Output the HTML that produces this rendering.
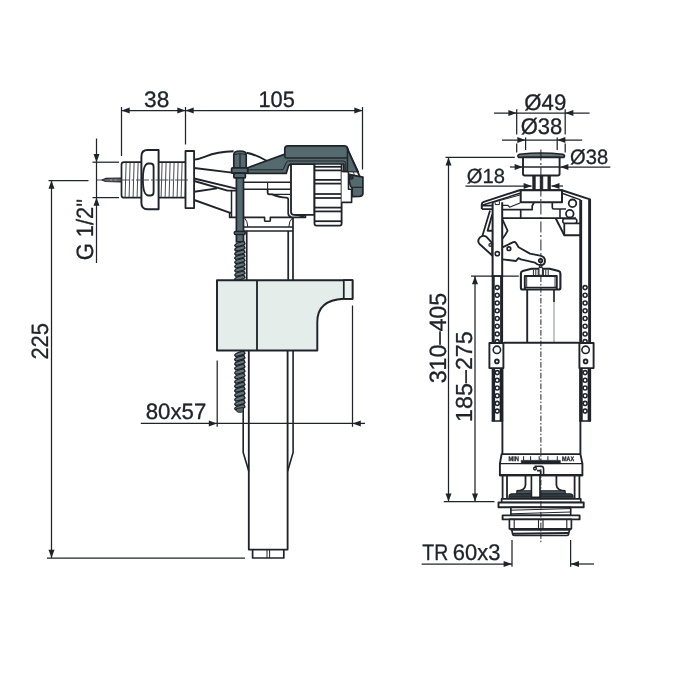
<!DOCTYPE html>
<html lang="en"><head><meta charset="utf-8"><title>Technical drawing</title>
<style>
html,body{margin:0;padding:0;background:#fff;}
body{width:700px;height:700px;overflow:hidden;}
svg{display:block;will-change:transform;}
svg text{font-family:"Liberation Sans",sans-serif;fill:#20242a;stroke:#20242a;stroke-width:0.3px;stroke-linejoin:round;text-rendering:geometricPrecision;}
</style></head><body>
<svg width="700" height="700" viewBox="0 0 700 700" fill="none" stroke="#20242a" stroke-linecap="butt" stroke-linejoin="round">
<rect x="0" y="0" width="700" height="700" fill="#fff" stroke="none"/>
<g id="left-dims">
<path d="M121.5 110.5L362.5 110.5" stroke-width="1.25"/>
<path d="M121.5 107L121.5 156" stroke-width="1.25"/>
<path d="M185.5 107L185.5 144.5" stroke-width="1.25"/>
<path d="M362.5 107L362.5 169.5" stroke-width="1.25"/>
<polygon points="121.5,110.5 129.7,107.5 129.7,113.5" fill="#20242a" stroke="none"/>
<polygon points="185.5,110.5 177.3,107.5 177.3,113.5" fill="#20242a" stroke="none"/>
<polygon points="185.5,110.5 193.7,107.5 193.7,113.5" fill="#20242a" stroke="none"/>
<polygon points="362.5,110.5 354.3,107.5 354.3,113.5" fill="#20242a" stroke="none"/>
<text x="144.12" y="106.8" font-size="22.4" textLength="25.14" lengthAdjust="spacingAndGlyphs">38</text>
<text x="258.38" y="106.8" font-size="22.4" textLength="36.41" lengthAdjust="spacingAndGlyphs">105</text>
<path d="M96.5 138.5L96.5 263" stroke-width="1.25"/>
<path d="M92.5 162.2L119 162.2" stroke-width="1.25"/>
<path d="M92.5 197.6L119 197.6" stroke-width="1.25"/>
<polygon points="96.5,162.2 93.5,154 99.5,154" fill="#20242a" stroke="none"/>
<polygon points="96.5,197.6 93.5,205.8 99.5,205.8" fill="#20242a" stroke="none"/>
<text transform="translate(93.1 260.31) rotate(-90)" font-size="23.6" textLength="61.39" lengthAdjust="spacingAndGlyphs">G 1/2"</text>
<path d="M51.5 180.5L51.5 558" stroke-width="1.25"/>
<path d="M48.5 180.5L88.5 180.5" stroke-width="1.25"/>
<path d="M47 558L245 558" stroke-width="1.25"/>
<polygon points="51.5,180.5 48.5,188.7 54.5,188.7" fill="#20242a" stroke="none"/>
<polygon points="51.5,558 48.5,549.8 54.5,549.8" fill="#20242a" stroke="none"/>
<text transform="translate(48 359.61) rotate(-90)" font-size="23.6" textLength="36.61" lengthAdjust="spacingAndGlyphs">225</text>
<path d="M140.8 423.4L365 423.4" stroke-width="1.25"/>
<path d="M217.2 360.5L217.2 426.8" stroke-width="1.25"/>
<path d="M352.5 305.5L352.5 426.8" stroke-width="1.25"/>
<polygon points="217,423.4 208.8,420.4 208.8,426.4" fill="#20242a" stroke="none"/>
<polygon points="352.6,423.4 360.8,420.4 360.8,426.4" fill="#20242a" stroke="none"/>
<text x="145.68" y="418.5" font-size="22.2" textLength="60.61" lengthAdjust="spacingAndGlyphs">80x57</text>
</g>
<g id="fill-valve" stroke-width="1.5">
<path d="M102 179.9L105.5 178.4L121.5 178L121.5 181.9L105.5 181.5Z" stroke-width="1.1" fill="#7d8488"/>
<path d="M185.5 162.2L124 162.2Q121.5 162.2 121.5 164.8L121.5 195.2Q121.5 197.7 124 197.7L185.5 197.7" stroke-width="1.72" fill="#fff"/>
<path d="M126.1 162.8L125.1 197.2" stroke-width="0.95" stroke="#3c4147"/>
<path d="M130.1 162.8L129.1 197.2" stroke-width="0.95" stroke="#3c4147"/>
<path d="M134.1 162.8L133.1 197.2" stroke-width="0.95" stroke="#3c4147"/>
<path d="M138.1 162.8L137.1 197.2" stroke-width="0.95" stroke="#3c4147"/>
<path d="M162.1 162.8L161.1 197.2" stroke-width="0.95" stroke="#3c4147"/>
<path d="M166.1 162.8L165.1 197.2" stroke-width="0.95" stroke="#3c4147"/>
<path d="M170.1 162.8L169.1 197.2" stroke-width="0.95" stroke="#3c4147"/>
<path d="M174.1 162.8L173.1 197.2" stroke-width="0.95" stroke="#3c4147"/>
<path d="M178.1 162.8L177.1 197.2" stroke-width="0.95" stroke="#3c4147"/>
<path d="M182.1 162.8L181.1 197.2" stroke-width="0.95" stroke="#3c4147"/>
<path d="M186.1 162.8L185.1 197.2" stroke-width="0.95" stroke="#3c4147"/>
<path d="M158.6 150L147.5 150Q141.4 150 141.4 156.5L141.4 202.8Q141.4 209.3 147.5 209.3L158.6 209.3Z" stroke-width="1.95" fill="#fff"/>
<path d="M148.6 163.5L150.3 163.5Q153.6 163.5 153.6 166.8L153.6 192.2Q153.6 195.5 150.3 195.5L148.6 195.5C144.4 195.5 142.9 188 142.9 179.5C142.9 171 144.4 163.5 148.6 163.5Z" stroke-width="1.84" fill="#fff"/>
<rect x="185.5" y="151" width="8.6" height="57.1" rx="0" stroke-width="1.84" fill="#fff"/>
<path d="M97 180L189.5 180" stroke-width="0.9" stroke="#3a3f45" stroke-dasharray="13 2 2.5 2"/>
<path d="M194.2 159.6C206 158.6 208 151.6 233.6 151.3" stroke-width="1.9" fill="none"/>
<path d="M246.5 152.8C254 154.2 260 157 266.5 160.8" stroke-width="1.9" fill="none"/>
<path d="M194.2 168L232 172.6" stroke-width="1.9"/>
<path d="M194.2 178.5L236.2 188.6" stroke-width="1.9" fill="none"/>
<path d="M194.2 181L227.5 190.6L236.2 190.6" stroke-width="1.9" fill="none"/>
<path d="M194.2 191.8L217 188.4" stroke-width="1.9" fill="none"/>
<path d="M194.2 200L230.2 212.8L231.5 212.8" stroke-width="1.9" fill="none"/>
<path d="M231.5 190.8L231.5 217.4" stroke-width="1.49" fill="none"/>
<path d="M229.6 212.8L229.6 217.4L264.6 217.4L264.6 220.4Q264.6 221.2 265.5 221.2L269.4 221.2Q270.3 221.2 270.3 220.4L270.3 217.4L305.5 217.4L305.5 214.8" stroke-width="1.61" fill="none"/>
<path d="M243.5 182.2L291 182.2" stroke-width="1.61"/>
<path d="M243.5 189.2L291 189.2" stroke-width="1.61"/>
<path d="M267.6 182.2L267.6 192.8Q267.6 194.4 269.2 194.4L290 194.4" stroke-width="1.1" fill="none"/>
<path d="M267.6 189L267.6 192.8Q267.6 194.4 269.2 194.4L272 194.4Q280 197.6 286 197.6Q288.2 197.6 288.2 199.6L288.2 213.5Q288.4 216.5 291.5 217" stroke-width="1.72" fill="none"/>
<path d="M244 227L292.8 227M244 230.9L292.8 230.9" stroke-width="1.49" fill="none"/>
<path d="M244.3 217.6Q247.7 221 247.8 227M292.6 217.6Q289 221 288.8 227" stroke-width="1" fill="none"/>
<path d="M246.7 230.9L246.7 280" stroke-width="1.72"/>
<path d="M288.2 230.9L288.2 280" stroke-width="1.72"/>
<path d="M293 217.4L293 280" stroke-width="1.72"/>
<path d="M248.8 350.5L248.8 549.6L287.6 549.6L287.6 350.5" stroke-width="1.84" fill="none"/>
<path d="M243.2 350.5L243.2 452.5L248.8 471.3" stroke-width="1.61" fill="none"/>
<path d="M293.1 350.5L293.1 452.5L287.6 471.3" stroke-width="1.61" fill="none"/>
<path d="M252.6 549.6L252.6 558L283.8 558L283.8 549.6" stroke-width="1.72" fill="none"/>
<path d="M267 549.6L267 558M269.6 549.6L269.6 558" stroke-width="1" fill="none"/>
<path d="M291 164L314.5 164L314.5 214.8L294 214.8Q291 214.8 291 211.7Z" stroke-width="1.84" fill="#fff"/>
<path d="M294 214.8L303.5 216.9L305.5 214.8" stroke-width="1" fill="#20242a"/>
<path d="M314.5 161.6L341.6 161.6L341.6 223.5Q341.6 225.6 339.6 225.6L316.5 225.6Q314.5 225.6 314.5 223.5Z" stroke-width="1.84" fill="#fff"/>
<path d="M314.5 166.8L341.6 166.8" stroke-width="1.78"/>
<path d="M314.5 170.4L341.6 170.4" stroke-width="1.78"/>
<path d="M314.5 179.9L341.6 179.9" stroke-width="1.78"/>
<path d="M314.5 183.6L341.6 183.6" stroke-width="1.78"/>
<path d="M314.5 194L341.6 194" stroke-width="1.78"/>
<path d="M314.5 198L341.6 198" stroke-width="1.78"/>
<path d="M314.5 207.6L341.6 207.6" stroke-width="1.78"/>
<path d="M314.5 211.4L341.6 211.4" stroke-width="1.78"/>
<path d="M314.5 221.2L341.6 221.2" stroke-width="1.78"/>
<path d="M341.6 171.4L348.5 171.4L348.5 189.3L351.6 189.3L351.6 202.4L341.6 202.4" stroke-width="1.61" fill="#fff"/>
<path d="M247.6 167.8L283.6 154.6L284.8 154.6L284.8 149Q284.8 145.8 288 145.8L344.2 145.8Q347 145.8 347.6 148.4L347.6 171.4L343.8 171.4L343.8 164L290.6 164L288.6 165.6L286.2 173.4L247.6 173.4Z" stroke-width="1.72" fill="#556a6e"/>
<path d="M347.6 149.5L358.4 171.8L347.6 171.8Z" stroke-width="1.2" fill="#556a6e"/>
<path d="M347 147.6L359.8 176.6" stroke-width="1.84" fill="none"/>
<path d="M348.4 172L353.2 172L354.6 175.2L349.2 174.6Z" stroke-width="0.8" fill="#fff"/>
<path d="M349 174.4L353.6 175.4L362.9 177.2L362.9 193.2Q362.9 196 360 196.3L352.2 196.6L352.2 188.4Q349.6 186 349.1 179Z" stroke-width="1.72" fill="#556a6e"/>
<path d="M284.8 154.6L284.8 156.4Q284.8 158 286.4 158L345.6 158Q347.2 158 347.6 156.6" stroke-width="1.49" fill="none"/>
<path d="M247.6 169.8L283 169.8L286.6 162Q287 161 288.6 161L343 161Q345.8 161 345.8 163.6L345.8 171" stroke-width="1" fill="none"/>
<path d="M352.2 187.3L362.9 187.3" stroke-width="1.2" fill="none"/>
<circle cx="351.4" cy="177.4" r="1.7" stroke-width="1.1" fill="#2f3a3e"/>
<path d="M233.8 167.8L233.8 154.6Q233.8 151 240 151Q246.2 151 246.2 154.6L246.2 167.8Z" stroke-width="1.72" fill="#556a6e"/>
<path d="M240 154L240 167.8" stroke-width="1.2"/>
<path d="M234 154.6Q240 152.6 246 154.6" stroke-width="0.9" fill="none"/>
<rect x="231.6" y="167.8" width="16.1" height="5.4" rx="1" stroke-width="1.72" fill="#556a6e"/>
<rect x="233.9" y="173.2" width="11.5" height="4.7" rx="1" stroke-width="1.72" fill="#556a6e"/>
<rect x="236.4" y="177.9" width="7.1" height="64" rx="0" stroke-width="1.72" fill="#556a6e"/>
<rect x="234.3" y="231.4" width="10.9" height="3" rx="1.2" stroke-width="1.49" fill="#556a6e"/>
<path d="M234.7 245.51Q234.4 243.4 243.8 241.3L245 243.82Q244 245.3 235.9 246.78Z" stroke-width="1.35" fill="#63787c"/>
<path d="M234.7 249.73Q234.4 247.62 243.8 245.52L245 248.04Q244 249.52 235.9 251Z" stroke-width="1.35" fill="#63787c"/>
<path d="M234.7 253.96Q234.4 251.84 243.8 249.74L245 252.27Q244 253.74 235.9 255.22Z" stroke-width="1.35" fill="#63787c"/>
<path d="M234.7 258.18Q234.4 256.07 243.8 253.97L245 256.49Q244 257.97 235.9 259.44Z" stroke-width="1.35" fill="#63787c"/>
<path d="M234.7 262.4Q234.4 260.29 243.8 258.19L245 260.71Q244 262.19 235.9 263.67Z" stroke-width="1.35" fill="#63787c"/>
<path d="M234.7 266.62Q234.4 264.51 243.8 262.41L245 264.93Q244 266.41 235.9 267.89Z" stroke-width="1.35" fill="#63787c"/>
<path d="M234.7 270.84Q234.4 268.73 243.8 266.63L245 269.16Q244 270.63 235.9 272.11Z" stroke-width="1.35" fill="#63787c"/>
<path d="M234.7 275.07Q234.4 272.96 243.8 270.86L245 273.38Q244 274.86 235.9 276.33Z" stroke-width="1.35" fill="#63787c"/>
<path d="M234.7 279.29Q234.4 277.18 243.8 275.08L245 277.6Q244 279.08 235.9 280.56Z" stroke-width="1.35" fill="#63787c"/>
<path d="M234.7 355.24Q234.4 353.01 243.8 350.8L245 353.45Q244 355.02 235.9 356.58Z" stroke-width="1.35" fill="#63787c"/>
<path d="M234.7 359.7Q234.4 357.47 243.8 355.26L245 357.92Q244 359.48 235.9 361.04Z" stroke-width="1.35" fill="#63787c"/>
<path d="M234.7 364.16Q234.4 361.93 243.8 359.72L245 362.38Q244 363.94 235.9 365.5Z" stroke-width="1.35" fill="#63787c"/>
<path d="M234.7 368.62Q234.4 366.39 243.8 364.18L245 366.84Q244 368.4 235.9 369.96Z" stroke-width="1.35" fill="#63787c"/>
<path d="M234.7 373.08Q234.4 370.85 243.8 368.65L245 371.3Q244 372.86 235.9 374.42Z" stroke-width="1.35" fill="#63787c"/>
<path d="M234.7 377.55Q234.4 375.32 243.8 373.11L245 375.76Q244 377.32 235.9 378.88Z" stroke-width="1.35" fill="#63787c"/>
<path d="M234.7 382.01Q234.4 379.78 243.8 377.57L245 380.22Q244 381.78 235.9 383.35Z" stroke-width="1.35" fill="#63787c"/>
<path d="M234.7 386.47Q234.4 384.24 243.8 382.03L245 384.68Q244 386.25 235.9 387.81Z" stroke-width="1.35" fill="#63787c"/>
<path d="M234.7 390.93Q234.4 388.7 243.8 386.49L245 389.15Q244 390.71 235.9 392.27Z" stroke-width="1.35" fill="#63787c"/>
<path d="M234.7 395.39Q234.4 393.16 243.8 390.95L245 393.61Q244 395.17 235.9 396.73Z" stroke-width="1.35" fill="#63787c"/>
<path d="M234.7 399.85Q234.4 397.62 243.8 395.42L245 398.07Q244 399.63 235.9 401.19Z" stroke-width="1.35" fill="#63787c"/>
<path d="M234.7 404.32Q234.4 402.08 243.8 399.88L245 402.53Q244 404.09 235.9 405.65Z" stroke-width="1.35" fill="#63787c"/>
<path d="M234.7 408.78Q234.4 406.55 243.8 404.34L245 406.99Q244 408.55 235.9 410.12Z" stroke-width="1.35" fill="#63787c"/>
<path d="M236.6 408.5L236.6 410.5Q236.6 412.2 238.5 412.2L241.2 412.2Q243.2 412.2 243.2 410.5L243.2 407.5Z" stroke-width="1" fill="#556a6e"/>
<path d="M217 280.2L352.5 280.2L352.5 298.8L343.5 298.8C328 299.6 317.3 306 317.3 322L317.3 350.5L217 350.5Z" stroke-width="1.95" fill="#e5edeb"/>
<path d="M343.8 280.2L343.8 298.8L352.5 298.8L352.5 280.2Z" stroke-width="1.72" fill="#ecf2f0"/>
<path d="M257 280.2L257 350.5" stroke-width="1.84"/>
</g>
<g id="right-dims">
<path d="M494 113L589.6 113" stroke-width="1.25"/>
<polygon points="516.6,113 508.4,110 508.4,116" fill="#20242a" stroke="none"/>
<polygon points="565.2,113 573.4,110 573.4,116" fill="#20242a" stroke="none"/>
<path d="M516.7 109.2L516.7 134.6" stroke-width="1.25"/>
<path d="M565.2 109.2L565.2 134.6" stroke-width="1.25"/>
<path d="M516.7 143.5L516.7 152.6" stroke-width="1.25"/>
<path d="M565.2 143.5L565.2 152.6" stroke-width="1.25"/>
<text x="524.3" y="110" font-size="22.4" textLength="41.92" lengthAdjust="spacingAndGlyphs">Ø49</text>
<path d="M502 140L582.2 140" stroke-width="1.25"/>
<polygon points="525.5,140 517.3,137 517.3,143" fill="#20242a" stroke="none"/>
<polygon points="557.2,140 565.4,137 565.4,143" fill="#20242a" stroke="none"/>
<path d="M525.6 137.4L525.6 150" stroke-width="1.25"/>
<path d="M557.2 137.4L557.2 150" stroke-width="1.25"/>
<text x="520.77" y="133.9" font-size="22.6" textLength="41.57" lengthAdjust="spacingAndGlyphs">Ø38</text>
<path d="M510 167L523 167" stroke-width="1.25"/>
<path d="M560 167L610.3 167" stroke-width="1.25"/>
<polygon points="522.8,167 514.6,164 514.6,170" fill="#20242a" stroke="none"/>
<polygon points="560.2,167 568.4,164 568.4,170" fill="#20242a" stroke="none"/>
<text x="570.11" y="163.7" font-size="20.8" textLength="38" lengthAdjust="spacingAndGlyphs">Ø38</text>
<path d="M465.4 186L531.6 186" stroke-width="1.25"/>
<path d="M551.5 186L563 186" stroke-width="1.25"/>
<polygon points="531.8,186 523.6,183 523.6,189" fill="#20242a" stroke="none"/>
<polygon points="551.3,186 559.5,183 559.5,189" fill="#20242a" stroke="none"/>
<text x="466.85" y="182.7" font-size="20.4" textLength="38.09" lengthAdjust="spacingAndGlyphs">Ø18</text>
<path d="M448.5 157.4L448.5 501.6" stroke-width="1.25"/>
<path d="M445.5 157.4L514.8 157.4" stroke-width="1.25"/>
<path d="M443.8 501.6L494.4 501.6" stroke-width="1.25"/>
<polygon points="448.5,157.4 445.5,165.6 451.5,165.6" fill="#20242a" stroke="none"/>
<polygon points="448.5,501.6 445.5,493.4 451.5,493.4" fill="#20242a" stroke="none"/>
<text transform="translate(445.7 383.34) rotate(-90)" font-size="23.6" textLength="90.59" lengthAdjust="spacingAndGlyphs">310–405</text>
<path d="M475 276.1L475 501.6" stroke-width="1.25"/>
<path d="M471 276.1L518.8 276.1" stroke-width="1.25"/>
<polygon points="475,276.1 472,284.3 478,284.3" fill="#20242a" stroke="none"/>
<polygon points="475,501.6 472,493.4 478,493.4" fill="#20242a" stroke="none"/>
<text transform="translate(471.9 421.92) rotate(-90)" font-size="23.2" textLength="90.72" lengthAdjust="spacingAndGlyphs">185–275</text>
<path d="M421.6 564L512 564" stroke-width="1.25"/>
<path d="M570.6 564L594 564" stroke-width="1.25"/>
<path d="M512 540L512 566.8" stroke-width="1.25"/>
<path d="M570.6 540L570.6 566.8" stroke-width="1.25"/>
<polygon points="511.8,564 503.6,561 503.6,567" fill="#20242a" stroke="none"/>
<polygon points="570.8,564 579,561 579,567" fill="#20242a" stroke="none"/>
<text x="422.3" y="560.4" font-size="22.6"><tspan textLength="25.88" lengthAdjust="spacingAndGlyphs">TR</tspan> <tspan x="452.81" textLength="47.55" lengthAdjust="spacingAndGlyphs">60x3</tspan></text>
</g>
<g id="flush-valve" stroke-width="1.5">
<path d="M518.6 157.4Q516.6 155.4 519.6 154.3Q541 151.6 562.8 154.3Q565.8 155.4 563.8 157.4Z" stroke-width="1.57" fill="#69777b"/>
<path d="M523 157.4L523 173.8Q523 175.5 524.7 175.5L557.9 175.5Q559.6 175.5 559.6 173.8L559.6 157.4Z" stroke-width="1.9" fill="#fff"/>
<path d="M523 167L559.6 167" stroke-width="1.46"/>
<rect x="532.7" y="175.6" width="2.6" height="14.6" rx="0" stroke-width="0.7" fill="#20242a"/>
<rect x="540.2" y="175.6" width="2.6" height="14.6" rx="0" stroke-width="0.7" fill="#20242a"/>
<rect x="547.9" y="175.6" width="2.6" height="14.6" rx="0" stroke-width="0.7" fill="#20242a"/>
<path d="M481.8 209L481.8 204.4Q481.8 202.6 483.8 201.9L519.5 190.2L562 190.2L590 199.4L590 203" stroke-width="2" fill="none"/>
<path d="M483 205L520 193.3" stroke-width="1.46" fill="none"/>
<path d="M492.3 202.6L520.5 194.8" stroke-width="1" fill="none"/>
<path d="M562 193.3L580.6 199.9" stroke-width="1.46" fill="none"/>
<rect x="520.7" y="190.2" width="41.3" height="12.1" rx="0" stroke-width="2" fill="#fff"/>
<path d="M481.8 205.7L492.2 205.7M481.8 209.2L492.2 209.2M502.4 209.6L532.2 209.6L532.2 206L534 202.4" stroke-width="1.68" fill="none"/>
<path d="M502.4 205.4L508 205.4L509.5 207.2L520 203" stroke-width="1.2" fill="none"/>
<path d="M552.3 202.4L552.3 207.5Q552.3 209 554 209L566 209" stroke-width="1.68" fill="none"/>
<path d="M560 209L560 218" stroke-width="1.57" fill="none"/>
<path d="M502.4 218.1L576 218.1" stroke-width="1.9"/>
<path d="M520.7 209.6L520.7 218.1" stroke-width="1.68"/>
<circle cx="572.5" cy="203.3" r="3.8" stroke-width="1.79" fill="#fff"/>
<circle cx="569.8" cy="213.7" r="3.8" stroke-width="1.79" fill="#fff"/>
<path d="M555.8 218.5L564.3 235.3L580.6 235.3" stroke-width="1.9" fill="none"/>
<path d="M564.3 235.3L564.3 223.3L580.6 223.3" stroke-width="1.79" fill="none"/>
<rect x="562.8" y="218.8" width="14" height="4.5" rx="2" stroke-width="1.57" fill="#fff"/>
<path d="M490 210.5L482.5 235.5L486 239" stroke-width="1.77" fill="none"/>
<path d="M492.2 214.5L487.6 230.7L492.2 230.7" stroke-width="1.85" fill="none"/>
<path d="M486.5 236.8Q483 234.6 480 237.4Q476.8 240.8 479.5 244L492.2 255.5L492.2 243.2Z" stroke-width="1.85" fill="#fff"/>
<circle cx="490.2" cy="245" r="1.3" stroke-width="1.2" fill="none"/>
<path d="M502.4 219.3L507.6 230.7L505 235.3L502.4 238.7" stroke-width="1.77" fill="none"/>
<path d="M502.4 247.3L513.3 242.1Q515 241.6 516 243L518.6 247.3L530 253.6L540 255.6Q545 256.4 545 260.8Q545 265.2 540.7 265.2Q537.4 265.2 535 262.6L521 259.3L518.4 258.1L516 261L502.4 259.3" stroke-width="1.85" fill="#fff"/>
<circle cx="508.9" cy="248.7" r="1.8" stroke-width="1.71" fill="none"/>
<circle cx="540.6" cy="260.6" r="1.8" stroke-width="1.79" fill="none"/>
<path d="M539.4 265.5L539.4 269M541.8 265.5L541.8 269" stroke-width="1.1" fill="none"/>
<path d="M492.6 202.2L492.6 276M502.2 202.2L502.2 276" stroke-width="2" fill="none"/>
<path d="M493.2 276L493.2 343M501.6 276L501.6 343" stroke-width="3" fill="none"/>
<path d="M493.4 368L493.4 421.3M501.4 368L501.4 421.3" stroke-width="3.5" fill="none"/>
<path d="M491.7 421L503.1 421" stroke-width="1.57"/>
<path d="M491.6 276L503.2 276" stroke-width="1.68"/>
<path d="M495.2 202.4L495.2 204.6L499.4 204.6L499.4 201.2" stroke-width="1" fill="none"/>
<circle cx="497.3" cy="253.7" r="2.1" stroke-width="1.57" fill="#fff"/>
<path d="M580.7 200L580.7 343M589.6 200L589.6 343" stroke-width="2.9" fill="none"/>
<path d="M581 368L581 421.3M589.4 368L589.4 421.3" stroke-width="3.5" fill="none"/>
<path d="M579.3 421L591 421" stroke-width="1.57"/>
<circle cx="497.2" cy="287.6" r="2" stroke-width="1.57" fill="#fff"/>
<circle cx="497.2" cy="295.32" r="2" stroke-width="1.57" fill="#fff"/>
<circle cx="497.2" cy="303.04" r="2" stroke-width="1.57" fill="#fff"/>
<circle cx="497.2" cy="310.76" r="2" stroke-width="1.57" fill="#fff"/>
<circle cx="497.2" cy="318.48" r="2" stroke-width="1.57" fill="#fff"/>
<circle cx="497.2" cy="326.2" r="2" stroke-width="1.57" fill="#fff"/>
<circle cx="497.2" cy="333.92" r="2" stroke-width="1.57" fill="#fff"/>
<circle cx="497.2" cy="341.64" r="2" stroke-width="1.57" fill="#fff"/>
<circle cx="497.2" cy="372.6" r="2" stroke-width="1.57" fill="#fff"/>
<circle cx="497.2" cy="380.3" r="2" stroke-width="1.57" fill="#fff"/>
<circle cx="497.2" cy="388" r="2" stroke-width="1.57" fill="#fff"/>
<circle cx="497.2" cy="395.7" r="2" stroke-width="1.57" fill="#fff"/>
<circle cx="497.2" cy="403.4" r="2" stroke-width="1.57" fill="#fff"/>
<circle cx="497.2" cy="411.1" r="2" stroke-width="1.57" fill="#fff"/>
<circle cx="585.1" cy="287.6" r="2" stroke-width="1.57" fill="#fff"/>
<circle cx="585.1" cy="295.32" r="2" stroke-width="1.57" fill="#fff"/>
<circle cx="585.1" cy="303.04" r="2" stroke-width="1.57" fill="#fff"/>
<circle cx="585.1" cy="310.76" r="2" stroke-width="1.57" fill="#fff"/>
<circle cx="585.1" cy="318.48" r="2" stroke-width="1.57" fill="#fff"/>
<circle cx="585.1" cy="326.2" r="2" stroke-width="1.57" fill="#fff"/>
<circle cx="585.1" cy="333.92" r="2" stroke-width="1.57" fill="#fff"/>
<circle cx="585.1" cy="341.64" r="2" stroke-width="1.57" fill="#fff"/>
<circle cx="585.1" cy="372.6" r="2" stroke-width="1.57" fill="#fff"/>
<circle cx="585.1" cy="380.3" r="2" stroke-width="1.57" fill="#fff"/>
<circle cx="585.1" cy="388" r="2" stroke-width="1.57" fill="#fff"/>
<circle cx="585.1" cy="395.7" r="2" stroke-width="1.57" fill="#fff"/>
<circle cx="585.1" cy="403.4" r="2" stroke-width="1.57" fill="#fff"/>
<circle cx="585.1" cy="411.1" r="2" stroke-width="1.57" fill="#fff"/>
<path d="M520.9 273.4Q520.9 271.6 522.7 271.1L531.6 268.7L549.8 268.7L558.6 271.1Q560.4 271.6 560.4 273.4L560.4 287.7Q560.4 289.5 558.6 289.5L522.7 289.5Q520.9 289.5 520.9 287.7Z" stroke-width="2.1" fill="#fff"/>
<path d="M524.8 289L524.8 276L556.8 276L556.8 289" stroke-width="1.9" fill="none"/>
<path d="M526.7 288L526.7 277M555 288L555 277" stroke-width="0.9" fill="none"/>
<path d="M533.4 269.6L533.4 275.4" stroke-width="1"/>
<path d="M535.8 269.6L535.8 275.4" stroke-width="1"/>
<path d="M538.2 269.6L538.2 275.4" stroke-width="1"/>
<path d="M543.4 269.6L543.4 275.4" stroke-width="1"/>
<path d="M545.8 269.6L545.8 275.4" stroke-width="1"/>
<path d="M548.2 269.6L548.2 275.4" stroke-width="1"/>
<rect x="539" y="267.6" width="3.4" height="7.6" rx="0" stroke-width="1" fill="#fff"/>
<path d="M524.8 287.4L556.8 287.4" stroke-width="1.46"/>
<path d="M527.2 289.5L527.2 342.7" stroke-width="1.9"/>
<path d="M554 289.5L554 302" stroke-width="1.68"/>
<path d="M554 302L554 342.7" stroke-width="1.2" stroke="#9aa1a5"/>
<path d="M503.9 342.8L579.3 342.8" stroke-width="1.9" fill="none"/>
<path d="M502.4 368L502.4 454.1M580.4 368L580.4 454.1" stroke-width="1.9" fill="none"/>
<rect x="489.4" y="343" width="14" height="25.1" rx="0" stroke-width="1.9" fill="#fff"/>
<rect x="579.4" y="343" width="14.2" height="25.1" rx="0" stroke-width="1.9" fill="#fff"/>
<circle cx="496.9" cy="349.8" r="3.7" stroke-width="1.57" fill="#fff"/>
<circle cx="496.9" cy="361.4" r="1.9" stroke-width="1.8" fill="#fff"/>
<circle cx="585.6" cy="349.8" r="3.7" stroke-width="1.57" fill="#fff"/>
<circle cx="585.6" cy="361.4" r="1.9" stroke-width="1.8" fill="#fff"/>
<path d="M501.6 454.1L580.4 454.1L582.4 463.6L582.4 475.4L499.9 475.4L499.9 463.6Z" stroke-width="1.9" fill="#fff"/>
<path d="M499.9 463.6L582.4 463.6" stroke-width="1.1"/>
<path d="M499.9 475.2L582.4 475.2" stroke-width="2.2"/>
<rect x="521.2" y="460.3" width="39.2" height="3.3" rx="0" stroke-width="0.5" fill="#20242a"/>
<path d="M523.6 456.2L523.6 460.3" stroke-width="1"/>
<path d="M530.6 456.2L530.6 460.3" stroke-width="1"/>
<path d="M539.2 456.2L539.2 460.3" stroke-width="1"/>
<path d="M547.9 456.2L547.9 460.3" stroke-width="1"/>
<path d="M557.3 456.2L557.3 460.3" stroke-width="1"/>
<text x="508.4" y="460.6" font-size="6.6" font-weight="bold" textLength="10.6" lengthAdjust="spacingAndGlyphs" stroke-width="0">MIN</text>
<text x="562" y="460.6" font-size="6.6" font-weight="bold" textLength="12" lengthAdjust="spacingAndGlyphs" stroke-width="0">MAX</text>
<circle cx="535" cy="468.6" r="1.4" stroke-width="1.46" fill="none"/>
<path d="M534.6 466.3L541 466.3Q543.6 466.3 543.6 469L543.6 474M537 470.6L539.6 470.6Q540.6 470.6 540.6 471.6L540.6 474" stroke-width="1.57" fill="none"/>
<path d="M502.6 475.4L502.6 499M507 475.4L507 499M574.6 475.4L574.6 499M579.4 475.4L579.4 499" stroke-width="1.79" fill="none"/>
<path d="M525.5 475.4L525.5 485Q525.2 490.5 516.5 491M556.4 475.4L556.4 485Q556.8 490.5 565.5 491" stroke-width="1.79" fill="none"/>
<path d="M516.4 493.8L517 491.6Q517.4 490.8 518.6 490.8L563.2 490.8Q564.6 490.8 565 491.6L565.6 493.8Z" stroke-width="1.1" fill="#46555a"/>
<path d="M509 498.3L509 496.4Q509 494 512 493.8L570 493.8Q573 494 573 496.4L573 498.3Z" stroke-width="1.2" fill="#3a474b"/>
<path d="M510 496.2L572 496.2" stroke-width="1"/>
<rect x="531.4" y="475.4" width="8.6" height="22" rx="0" stroke-width="1.68" fill="#fff"/>
<rect x="501.6" y="498.9" width="79.2" height="3.6" rx="0" stroke-width="1.68" fill="#fff"/>
<rect x="498.5" y="502.5" width="85.2" height="4.8" rx="0" stroke-width="1.9" fill="#fff"/>
<rect x="510.9" y="507.3" width="59.8" height="8.1" rx="0" stroke-width="1.68" fill="#fff"/>
<path d="M510.9 510.2L570.6 508.6M510.9 513.8L570.6 512" stroke-width="1" fill="none"/>
<rect x="502.6" y="515.4" width="77" height="4" rx="0" stroke-width="1.9" fill="#fff"/>
<rect x="509.4" y="519.4" width="62" height="9.4" rx="0" stroke-width="1.68" fill="#fff"/>
<path d="M514.2 519.4L514.2 528.8M566.8 519.4L566.8 528.8M538.5 519.4L538.5 528.8M543 519.4L543 528.8" stroke-width="1.1" fill="none"/>
<path d="M511.6 528.8L512.6 534.2Q512.8 535.5 514.2 535.5L567 535.5Q568.4 535.5 568.6 534.2L569.6 528.8Z" stroke-width="1.68" fill="#fff"/>
<path d="M510.5 529.6L570.5 529.6" stroke-width="2.4"/>
<path d="M512.6 533.8L568.6 533" stroke-width="1.9"/>
<path d="M540.9 149.5L540.9 268" stroke-width="1" stroke-dasharray="11 2.5 2 2.5"/>
<path d="M540.9 276.5L540.9 543.5" stroke-width="1" stroke-dasharray="5.6 1.8 1.5 1.8"/>
</g>
</svg>
</body></html>
